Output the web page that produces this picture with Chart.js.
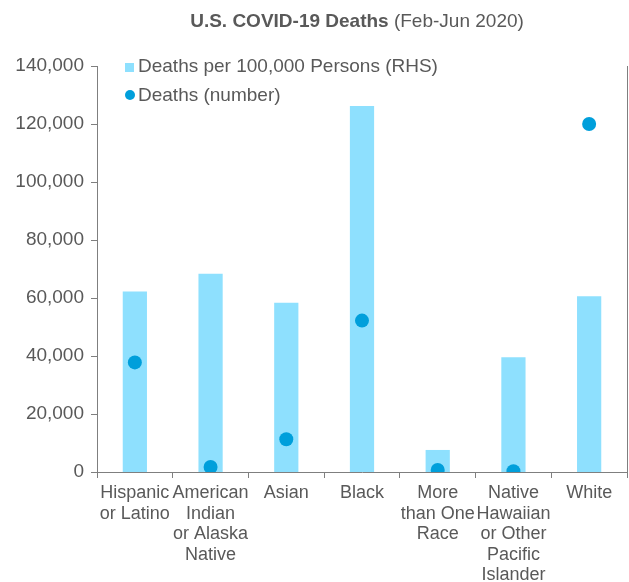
<!DOCTYPE html>
<html>
<head>
<meta charset="utf-8">
<script src="https://cdn.jsdelivr.net/npm/chart.js@4"></script>
<style>
  html, body { margin: 0; padding: 0; background: #fff; overflow: hidden; }
  .wrap { position: relative; width: 629px; height: 582px; font-family: "Liberation Sans", Arial, sans-serif; color: #595959; }
  .title { position: absolute; left: 97px; width: 520px; top: 9px; text-align: center; font-size: 19px; line-height: 23px; white-space: nowrap; }
  .legend { position: absolute; left: 125px; top: 51px; font-size: 19px; line-height: 29px; }
  .legend div { display: flex; align-items: center; white-space: nowrap; }
  .sq { display: inline-block; width: 9px; height: 9px; background: #8EE0FE; margin-right: 4px; margin-top: 3px; }
  .dot { display: inline-block; width: 10px; height: 10px; border-radius: 50%; background: #009FDB; margin-right: 3px; }
</style>
</head>
<body>
<div class="wrap">
  <canvas id="chart" width="629" height="582"></canvas>
  <div class="title"><b>U.S. COVID-19 Deaths</b> (Feb-Jun 2020)</div>
  <div class="legend">
    <div><span class="sq"></span>Deaths per 100,000 Persons (RHS)</div>
    <div><span class="dot"></span>Deaths (number)</div>
  </div>
</div>
<script>
// catégories (étiquettes sur plusieurs lignes)
const categories = [
  ['Hispanic', 'or Latino'],
  ['American', 'Indian', 'or Alaska', 'Native'],
  'Asian',
  'Black',
  ['More', 'than One', 'Race'],
  ['Native', 'Hawaiian', 'or Other', 'Pacific', 'Islander'],
  'White'
];

// décès pour 100 000 personnes (axe de droite)
const ratePer100k = [31.1, 34.2, 29.2, 63.1, 3.8, 19.8, 30.3];

// nombre de décès (axe de gauche)
const deaths = [37800, 1700, 11300, 52200, 700, 300, 120000];

const leftTicks = [0, 20000, 40000, 60000, 80000, 100000, 120000, 140000];

const grey = '#595959';
const axisGrey = '#7f7f7f';
const font = { family: '"Liberation Sans", Arial, sans-serif', size: 19 };

new Chart(document.getElementById('chart'), {
  type: 'bar',
  data: {
    labels: categories,
    datasets: [
      {
        type: 'line',
        label: 'Deaths (number)',
        data: deaths,
        yAxisID: 'y',
        showLine: false,
        pointRadius: 7,
        pointHoverRadius: 7,
        pointBackgroundColor: '#009FDB',
        pointBorderWidth: 0,
        order: 0
      },
      {
        label: 'Deaths per 100,000 Persons (RHS)',
        data: ratePer100k,
        yAxisID: 'y2',
        backgroundColor: '#8EE0FE',
        barPercentage: 0.32,
        categoryPercentage: 1,
        order: 1
      }
    ]
  },
  options: {
    responsive: false,
    animation: false,
    layout: { autoPadding: false, padding: { top: 66, left: 0, right: 0, bottom: 0 } },
    plugins: {
      legend: { display: false },
      tooltip: { enabled: false }
    },
    scales: {
      x: {
        offset: true,
        grid: { offset: true, drawOnChartArea: false, tickLength: 6, color: axisGrey },
        border: { color: axisGrey, width: 1 },
        ticks: {
          color: grey,
          font: { family: font.family, size: 18, lineHeight: 1.14 },
          autoSkip: false,
          maxRotation: 0,
          minRotation: 0,
          padding: 5
        },
        afterFit: s => { s.height = 110; }
      },
      y: {
        position: 'left',
        min: 0,
        max: 140000,
        afterBuildTicks: s => { s.ticks = leftTicks.map(v => ({ value: v })); },
        grid: { drawOnChartArea: false, tickLength: 6, color: axisGrey },
        border: { color: axisGrey, width: 1 },
        ticks: {
          color: grey,
          font: font,
          padding: 7,
          callback: v => v.toLocaleString('en-US')
        },
        afterFit: s => { s.width = 97; }
      },
      y2: {
        position: 'right',
        min: 0,
        max: 70,
        grid: { display: false },
        border: { color: axisGrey, width: 1 },
        ticks: { display: false },
        afterFit: s => { s.width = 2; }
      }
    }
  }
});
</script>
</body>
</html>
